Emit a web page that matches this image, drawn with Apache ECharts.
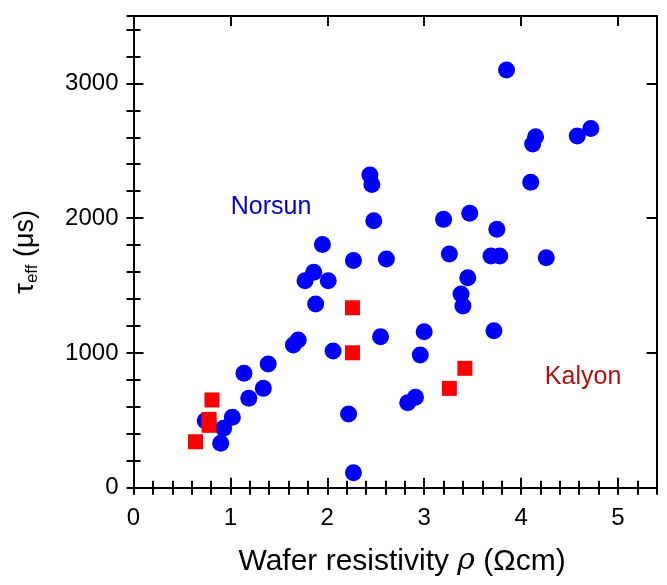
<!DOCTYPE html>
<html>
<head>
    <meta charset="utf-8">
    <title>tau_eff vs resistivity</title>
    <script src="https://cdn.jsdelivr.net/npm/echarts@6/dist/echarts.min.js"></script>
    <style>
        html, body { margin: 0; padding: 0; background: #fff; }
        #chart1 { width: 667px; height: 585px; }
    </style>
</head>
<body>
<div id="chart1"></div>
<script type="text/javascript">
    // Norsun wafers (blue circles)
    var norsunRho = [2.44, 2.46, 2.48, 1.95, 2.27, 2.61, 1.86, 1.77, 2.01, 1.88,
                     2.55, 1.65, 1.70, 2.06, 1.39, 1.14, 1.34, 1.19, 1.02, 0.93,
                     0.74, 0.90, 2.22, 2.27, 2.83, 2.91, 2.96, 3.00, 3.20, 3.47,
                     3.75, 3.26, 3.69, 3.78, 3.45, 3.38, 3.40, 3.72, 3.85, 4.15,
                     4.12, 4.58, 4.72, 4.10, 4.26];
    var norsunTau = [2320, 2250, 1980, 1805, 1685, 1697, 1598, 1536, 1536, 1363,
                     1120, 1059, 1096, 1014, 918, 849, 737, 663, 522, 441,
                     497, 329, 547, 111, 631, 671, 984, 1157, 1991, 2036,
                     1917, 1734, 1719, 1719, 1558, 1437, 1348, 1165, 3099, 2604,
                     2550, 2609, 2666, 2266, 1706];
    // Kalyon wafers (red squares)
    var kalyonRho = [2.26, 2.26, 0.81, 0.78, 0.78, 0.64, 3.42, 3.26];
    var kalyonTau = [1335, 1001, 651, 507, 463, 341, 886, 737];
    // annotations
    var tagNames = ['Norsun', 'Kalyon'];
    var tagRho = [1.42, 4.64];
    var tagTau = [2079, 821];

    var FONT = "'Liberation Sans', Arial, sans-serif";

    function zip(a, b) {
        var out = [];
        for (var i = 0; i < a.length; i++) out.push([a[i], b[i]]);
        return out;
    }

    var myChart = echarts.init(document.getElementById('chart1'));

    var blackLine = { color: '#000', width: 2 };

    function majorX(pos, labels) {
        return {
            type: 'value', position: pos, gridIndex: 0,
            min: 0, max: 5.4, interval: 1,
            axisLine: { show: true, onZero: false, lineStyle: blackLine },
            axisTick: { show: true, inside: true, length: 10, lineStyle: blackLine },
            axisLabel: {
                show: labels, showMaxLabel: false, margin: 19,
                color: '#000', fontSize: 24, fontFamily: FONT,
                formatter: function (v) { return String(v); }
            },
            splitLine: { show: false }
        };
    }
    function minorX(pos) {
        return {
            type: 'value', position: pos, gridIndex: 0,
            min: 0, max: 5.4, interval: 0.2,
            axisLine: { show: false },
            axisTick: { show: true, inside: true, length: 7, lineStyle: blackLine },
            axisLabel: { show: false },
            splitLine: { show: false }
        };
    }
    function majorY(pos, labels) {
        return {
            type: 'value', position: pos, gridIndex: 0,
            min: 0, max: 3500, interval: 1000,
            axisLine: { show: true, onZero: false, lineStyle: blackLine },
            axisTick: { show: true, inside: true, length: 10, lineStyle: blackLine },
            axisLabel: {
                show: labels, showMaxLabel: false, margin: 15,
                color: '#000', fontSize: 24, fontFamily: FONT,
                formatter: function (v) { return String(v); }
            },
            splitLine: { show: false }
        };
    }
    function minorY(pos) {
        return {
            type: 'value', position: pos, gridIndex: 0,
            min: 0, max: 3500, interval: 200,
            axisLine: { show: false },
            axisTick: { show: true, inside: true, length: 7, lineStyle: blackLine },
            axisLabel: { show: false },
            splitLine: { show: false }
        };
    }

    var xMain = majorX('bottom', true);
    xMain.name = 'Wafer resistivity {i|ρ} (Ωcm)';
    xMain.nameLocation = 'middle';
    xMain.nameGap = 57;
    xMain.nameTextStyle = {
        color: '#000', fontSize: 30, fontFamily: FONT, lineHeight: 34,
        padding: [0, 0, 0, 14],
        rich: { i: { fontSize: 30, fontStyle: 'italic', fontFamily: "'DejaVu Serif', serif", color: '#000', lineHeight: 34 } }
    };

    var yMain = majorY('left', true);
    yMain.name = '{t|τ}{s|eff}{t| (μs)}';
    yMain.nameLocation = 'middle';
    yMain.nameGap = 93;
    yMain.nameTextStyle = {
        color: '#000', fontFamily: FONT,
        rich: {
            t: { fontSize: 27, fontFamily: FONT, color: '#000', lineHeight: 30, verticalAlign: 'middle' },
            s: { fontSize: 17, fontFamily: FONT, color: '#000', lineHeight: 17, verticalAlign: 'bottom' }
        }
    };

    myChart.setOption({
        animation: false,
        backgroundColor: '#fff',
        grid: { left: 133.5, top: 16, right: 10.3, bottom: 97.3, containLabel: false },
        xAxis: [xMain, minorX('bottom'), majorX('top', false), minorX('top')],
        yAxis: [yMain, minorY('left'), majorY('right', false), minorY('right')],
        series: [
            {
                name: 'Norsun', type: 'scatter', xAxisIndex: 0, yAxisIndex: 0,
                symbol: 'circle', symbolSize: 17,
                itemStyle: { color: '#0000ff', opacity: 1 },
                data: zip(norsunRho, norsunTau)
            },
            {
                name: 'Kalyon', type: 'scatter', xAxisIndex: 0, yAxisIndex: 0,
                symbol: 'rect', symbolSize: 15,
                itemStyle: { color: '#ff0000', opacity: 1 },
                data: zip(kalyonRho, kalyonTau)
            },
            {
                name: 'tags', type: 'scatter', xAxisIndex: 0, yAxisIndex: 0,
                symbolSize: 0, silent: true,
                itemStyle: { opacity: 1 },
                data: [
                    { value: [tagRho[0], tagTau[0]], label: { formatter: tagNames[0], color: '#0000c8' } },
                    { value: [tagRho[1], tagTau[1]], label: { formatter: tagNames[1], color: '#b01010' } }
                ],
                label: {
                    show: true, position: 'inside', fontSize: 25, fontFamily: FONT
                }
            }
        ]
    });
</script>
</body>
</html>
